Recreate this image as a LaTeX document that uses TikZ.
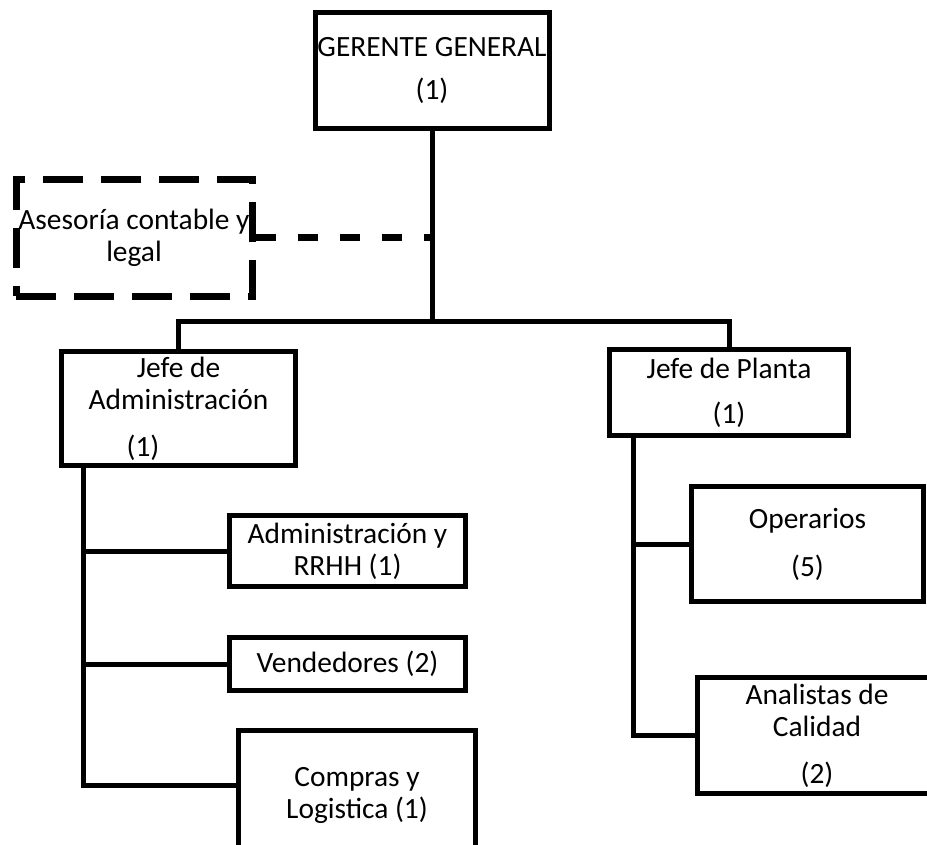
\documentclass[tikz,border=0pt]{standalone}
\usepackage{fontspec}
\setmainfont{Carlito}
\usetikzlibrary{positioning}

\tikzset{
  cargo/.style={draw, line width=2.5pt, rectangle, align=center, inner sep=0pt,
    font=\fontsize{14.7}{16}\selectfont},
  asesor/.style={cargo, line width=3.5pt, dash pattern=on 20pt off 9pt},
  linea/.style={line width=2.5pt},
  staff/.style={line width=3.5pt, dash pattern=on 10pt off 11pt}
}

\begin{document}
\begin{tikzpicture}[x=0.5pt, y=-0.5pt]
  \clip (0,0) rectangle (927,845);

  % Define nodes
  \node[cargo, minimum width=117pt, minimum height=58pt] (gerente) at (432,71)
    {GERENTE GENERAL\\[5.5pt](1)};
  \node[asesor, minimum width=118pt, minimum height=58.5pt] (asesoria) at (134,238)
    {Asesoría contable y\\legal};
  \node[cargo, minimum width=117pt, minimum height=57pt] (jadm) at (178.5,408.5)
    {Jefe de\\Administración\\[7.5pt](1)\hspace*{35.5pt}};
  \node[cargo, minimum width=119.5pt, minimum height=43pt] (jplanta) at (729,392.5)
    {Jefe de Planta\\[6.5pt](1)};
  \node[cargo, minimum width=118pt, minimum height=35.5pt] (rrhh) at (347.5,551)
    {Administración y\\RRHH (1)};
  \node[cargo, minimum width=118pt, minimum height=26.5pt] (vend) at (347.5,664)
    {Vendedores (2)};
  \node[cargo, minimum width=118.5pt, minimum height=65pt] (compras) at (357,795)
    {Compras y\\Logistica (1)};
  \node[cargo, minimum width=116pt, minimum height=57.5pt] (oper) at (807.5,544)
    {Operarios\\[8pt](5)};
  \node[cargo, minimum width=120pt, minimum height=58pt] (anal) at (817,735.5)
    {Analistas de\\Calidad\\[7.5pt](2)};

  \coordinate (split) at (432,322);
  \coordinate (admbus) at (83,467);
  \coordinate (plabus) at (633,437);

  % Connect the nodes
  \draw[linea] (gerente.south) -- (split);
  \draw[staff] (asesoria.east) -- (asesoria.east -| split);
  \draw[linea] (jadm.north) |- (split) -| (jplanta.north);
  \draw[linea] (admbus) |- (rrhh.west);
  \draw[linea] (admbus) |- (vend.west);
  \draw[linea] (admbus) |- ([yshift=5pt]compras.west);
  \draw[linea] (plabus) |- (oper.west);
  \draw[linea] (plabus) |- (anal.west);
\end{tikzpicture}
\end{document}
